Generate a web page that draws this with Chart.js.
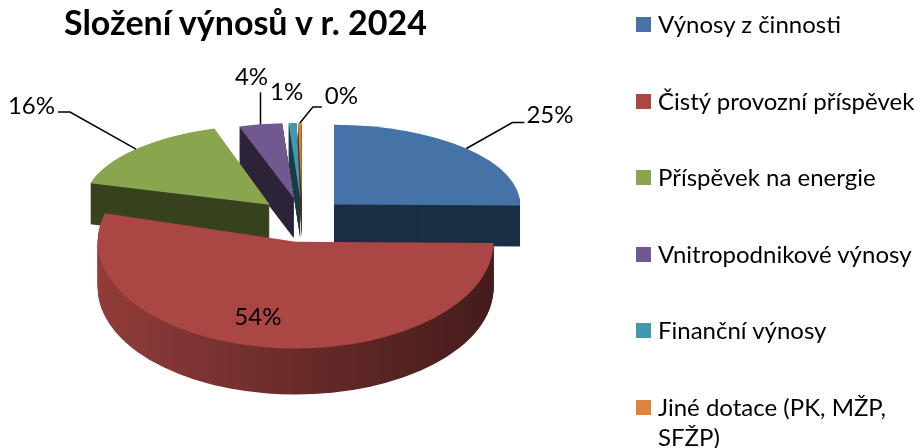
<!DOCTYPE html>
<html>
<head>
<meta charset="utf-8">
<script src="https://cdn.jsdelivr.net/npm/chart.js@4.4.1/dist/chart.umd.min.js"></script>
<style>
html, body { margin: 0; padding: 0; background: #fff; }
#wrap { position: relative; width: 922px; height: 448px; overflow: hidden; }
#c { position: absolute; left: 0; top: 0; }
#title { position: absolute; left: 64px; top: 1px; font: bold 34px Lato, "Noto Sans", sans-serif; color: #000; white-space: nowrap; }
#legend { position: absolute; left: 636px; top: 0; width: 286px; height: 448px; font: 24px Lato, "Noto Sans", sans-serif; color: #000; }
.item { position: absolute; left: 0; width: 286px; line-height: 30px; }
.box { position: absolute; left: 0; top: 8px; width: 15px; height: 15px; }
.txt { margin-left: 22px; display: block; }
</style>
</head>
<body>
<div id="wrap">
  <canvas id="c" width="922" height="448"></canvas>
  <div id="title">Složení výnosů v r. 2024</div>
  <div id="legend"></div>
</div>
<script>
const categories = ['Výnosy z činnosti', 'Čistý provozní příspěvek', 'Příspěvek na energie',
                    'Vnitropodnikové výnosy', 'Finanční výnosy', 'Jiné dotace (PK, MŽP, SFŽP)'];
const values = [25.2, 54.1, 15.9, 3.8, 0.7, 0.3];
const colors = ['#4572A7', '#AA4643', '#89A54E', '#71588F', '#4198AF', '#DB843D'];

// fake perspective: slices at the back are a bit smaller and higher
const view = { cx: 302, cy: 220, ex: 45, ey: 22, rx: 191, rxBack: 7, ry: 91, ryBack: 16, depth: 43, depthBack: 3 };

// where the percent labels go, relative to the edge of each slice
const labelLayout = [
    { lead: [46, -26], tail: 12, text: [2, -7], align: 'left' },
    { inside: 0.71, text: [-18, 0], align: 'center' },
    { lead: [-66, -37], tail: -12, text: [-3, -6], align: 'right' },
    { lead: [0, -32], tail: 0, text: [-9, -15], align: 'center' },
    { lead: null, text: [-6, -31], align: 'center' },
    { lead: [13, -16], tail: 9, text: [3, -11], align: 'left' }
];

function shade(hex, f)
{
    let n = parseInt(hex.slice(1), 16);
    let r = Math.round(((n >> 16) & 255) * f);
    let g = Math.round(((n >> 8) & 255) * f);
    let b = Math.round((n & 255) * f);
    return 'rgb(' + r + ',' + g + ',' + b + ')';
}

function sliceView(arc)
{
    let mid = (arc.startAngle + arc.endAngle) / 2;
    let right = Math.cos(mid), back = -Math.sin(mid);
    return {
        x: view.cx + view.ex * right,
        y: view.cy - view.ey * back,
        rx: view.rx - view.rxBack * back,
        ry: view.ry - view.ryBack * back,
        depth: view.depth - view.depthBack * back,
        back: back,
        mid: mid
    };
}

function drawSlice(ctx, arc, v, dy, fill)
{
    let r0 = arc.outerRadius;
    let el = Object.create(arc);
    el.options = Object.assign({}, arc.options, { backgroundColor: fill, borderWidth: 0, offset: 0 });
    ctx.save();
    ctx.translate(v.x, v.y + dy);
    ctx.scale(v.rx / r0, v.ry / r0);
    ctx.translate(-arc.x, -arc.y);
    el.draw(ctx);
    ctx.restore();
}

const pie3d = {
    id: 'pie3d',
    beforeDatasetsDraw(chart)
    {
        const ctx = chart.ctx;
        const meta = chart.getDatasetMeta(0);
        const total = values.reduce((a, b) => a + b, 0);

        let order = meta.data.map((arc, i) => ({ arc: arc, i: i, v: sliceView(arc) }));
        order.sort((a, b) => b.v.back - a.v.back);

        for (let s of order)
        {
            let arc = s.arc, v = s.v, base = colors[s.i];
            let side;
            if (v.back < 0)
            {
                side = ctx.createLinearGradient(arc.x - arc.outerRadius, 0, arc.x + arc.outerRadius, 0);
                side.addColorStop(0, shade(base, 0.85));
                side.addColorStop(0.5, shade(base, 0.62));
                side.addColorStop(1, shade(base, 0.4));
            }
            else
                side = shade(base, 0.4);
            for (let d = Math.round(v.depth); d >= 1; d--)
                drawSlice(ctx, arc, v, d, side);
            drawSlice(ctx, arc, v, 0, base);
        }

        // percent labels
        ctx.save();
        ctx.font = '24px Lato, "Noto Sans", sans-serif';
        ctx.fillStyle = '#000';
        ctx.strokeStyle = '#000';
        ctx.lineWidth = 1.5;
        ctx.textBaseline = 'middle';
        meta.data.forEach((arc, i) => {
            let v = sliceView(arc);
            let lay = labelLayout[i];
            let txt = Math.round(values[i] / total * 100) + '%';
            let f = lay.inside || 1;
            let ax = v.x + v.rx * f * Math.cos(v.mid);
            let ay = v.y + v.ry * f * Math.sin(v.mid);
            let tx = ax, ty = ay;
            if (lay.lead)
            {
                let ex = ax + lay.lead[0], ey = ay + lay.lead[1];
                ctx.beginPath();
                ctx.moveTo(ax, ay);
                ctx.lineTo(ex, ey);
                ctx.lineTo(ex + lay.tail, ey);
                ctx.stroke();
                tx = ex + lay.tail;
                ty = ey;
            }
            ctx.textAlign = lay.align;
            ctx.fillText(txt, tx + lay.text[0], ty + lay.text[1]);
        });
        ctx.restore();
        return false;
    }
};

new Chart(document.getElementById('c'), {
    type: 'pie',
    data: {
        labels: categories,
        datasets: [{
            data: values,
            backgroundColor: colors,
            borderWidth: 0,
            offset: 0,
            hoverOffset: 0
        }]
    },
    options: {
        responsive: false,
        animation: false,
        rotation: 0,
        events: [],
        layout: { padding: { left: 112, right: 430, top: 29, bottom: 29 } },
        plugins: {
            legend: { display: false },
            title: { display: false },
            tooltip: { enabled: false }
        }
    },
    plugins: [pie3d]
});

// legend on the right, one row per category
let legend = document.getElementById('legend');
categories.forEach((name, i) => {
    let item = document.createElement('div');
    item.className = 'item';
    item.style.top = (9 + i * 76.6) + 'px';
    let box = document.createElement('span');
    box.className = 'box';
    box.style.background = colors[i];
    let txt = document.createElement('span');
    txt.className = 'txt';
    txt.textContent = name;
    item.appendChild(box);
    item.appendChild(txt);
    legend.appendChild(item);
});
</script>
</body>
</html>
